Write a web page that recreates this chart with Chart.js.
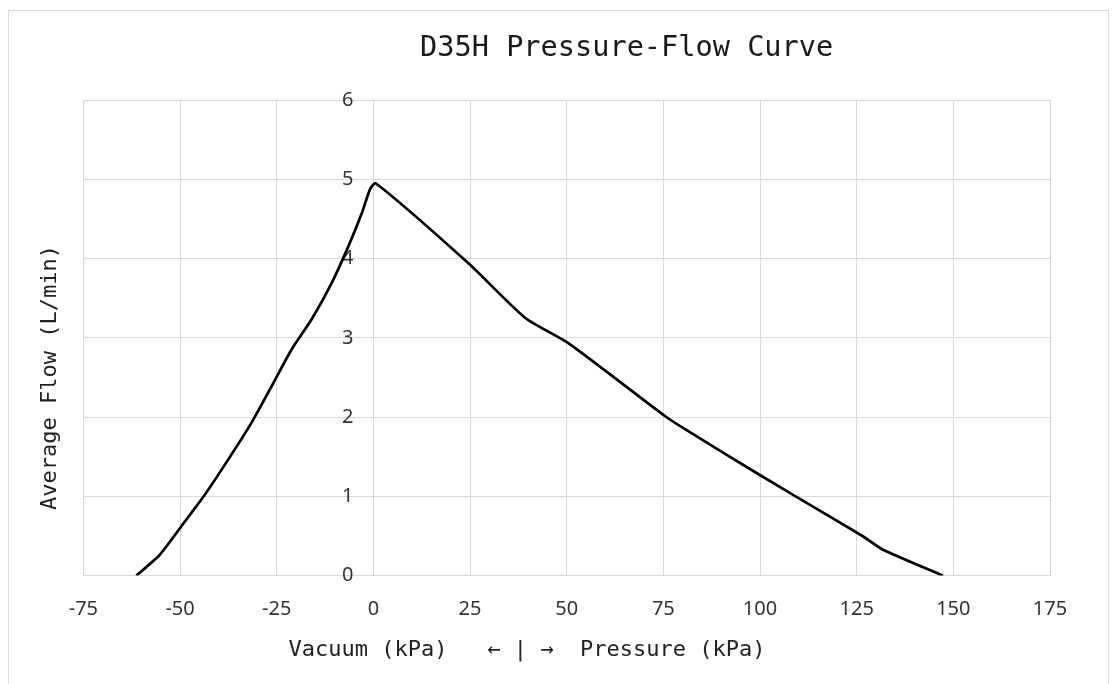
<!DOCTYPE html>
<html>
<head>
<meta charset="utf-8">
<title>D35H Pressure-Flow Curve</title>
<script src="https://cdn.jsdelivr.net/npm/chart.js@4.4.1/dist/chart.umd.min.js"></script>
<style>
  html, body { margin: 0; padding: 0; background: #fff; overflow: hidden; }
  #frame { position: absolute; left: 8px; top: 10px; width: 1099px; height: 680px; border: 1px solid #dcdcdc; border-bottom: none; }
  #wrap { position: absolute; left: 0; top: 0; width: 1117px; height: 684px; }
</style>
</head>
<body>
<div id="frame"></div>
<div id="wrap"><canvas id="curveChart"></canvas></div>
<script>
// Chart data
const chartTitle = 'D35H Pressure-Flow Curve';
const pressureKpa = [-61.3, -55.3, -49.7, -43.6, -37.6, -31.5, -26.3, -21.2, -16.0, -10.8, -6.5, -3.0, -0.9, 0.6,
    24.6, 39.3, 50.5, 75.5, 80.5, 100.6, 109.2, 126.5, 131.7, 147.3];
const avgFlow = [0, 0.26, 0.62, 1.02, 1.46, 1.93, 2.39, 2.85, 3.23, 3.69, 4.15, 4.57, 4.87, 4.95,
    3.94, 3.25, 2.93, 2.01, 1.85, 1.25, 1.0, 0.5, 0.33, 0];
const xTicks = [-75, -50, -25, 0, 25, 50, 75, 100, 125, 150, 175];
const yTicks = [0, 1, 2, 3, 4, 5, 6];
const xTitle = 'Vacuum (kPa)   \u2190 | \u2192  Pressure (kPa)      ';
const yTitle = 'Average Flow (L/min)      ';

const gridColor = '#d9d9d9';
const tickFont = { family: '"Noto Sans", sans-serif', size: 20 };
const monoFont = { family: '"DejaVu Sans Mono", monospace', size: 22 };

// Chart title, placed over the plot like the Excel original
const curveTitle = {
    id: 'curveTitle',
    afterDraw(chart) {
        const { ctx, chartArea } = chart;
        ctx.save();
        ctx.font = '28.6px "DejaVu Sans Mono", monospace';
        ctx.fillStyle = '#1a1a1a';
        ctx.textAlign = 'center';
        ctx.textBaseline = 'middle';
        ctx.fillText(chartTitle, chartArea.left + (chartArea.right - chartArea.left) * 0.562, 49);
        ctx.restore();
    }
};

new Chart(document.getElementById('curveChart'), {
    type: 'scatter',
    data: {
        datasets: [{
            label: 'D35H',
            data: pressureKpa.map((p, i) => ({ x: p, y: avgFlow[i] })),
            showLine: true,
            borderColor: '#000',
            borderWidth: 2.7,
            pointRadius: 0,
            tension: 0.2,
            yAxisID: 'y'
        }]
    },
    options: {
        responsive: true,
        maintainAspectRatio: false,
        animation: false,
        layout: { padding: { top: 100, left: 8, right: 67, bottom: 21 } },
        plugins: {
            legend: { display: false },
            tooltip: { enabled: false },
            title: { display: false }
        },
        scales: {
            x: {
                type: 'linear',
                position: 'bottom',
                min: -75,
                max: 175,
                afterBuildTicks: scale => { scale.ticks = xTicks.map(v => ({ value: v })); },
                grid: { color: gridColor, drawTicks: true, tickLength: 22, tickColor: 'transparent' },
                border: { color: gridColor },
                ticks: { padding: 0, font: tickFont, color: '#333', maxRotation: 0, autoSkip: false },
                title: { display: true, text: xTitle, font: monoFont, color: '#222', padding: { top: 15, bottom: 0 } }
            },
            y: {
                type: 'linear',
                position: { x: 0 },
                min: 0,
                max: 6,
                afterBuildTicks: scale => { scale.ticks = yTicks.map(v => ({ value: v })); },
                grid: { color: gridColor, drawTicks: false },
                border: { color: gridColor },
                // labels sit left of the zero line; an em space keeps the gap
                ticks: { font: tickFont, color: '#333', callback: v => v + '\u2003' }
            },
            y2: {
                type: 'linear',
                position: 'left',
                min: 0,
                max: 6,
                ticks: { display: false },
                grid: { display: false, drawTicks: false },
                border: { display: false },
                title: { display: true, text: yTitle, font: monoFont, color: '#222', padding: { top: 29, bottom: 20 } }
            }
        }
    },
    plugins: [curveTitle]
});
</script>
</body>
</html>
